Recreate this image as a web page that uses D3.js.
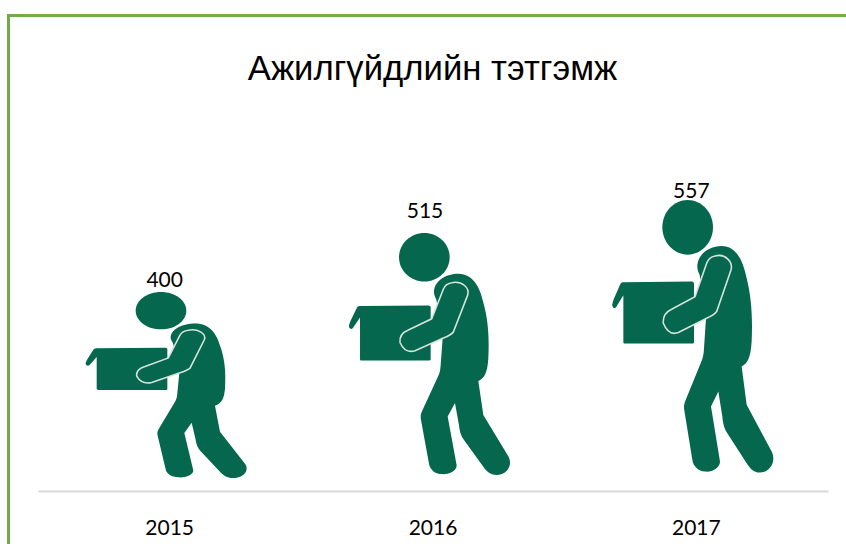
<!DOCTYPE html>
<html>
<head>
<meta charset="utf-8">
<script src="https://cdn.jsdelivr.net/npm/d3@7"></script>
<style>
  html, body { margin: 0; padding: 0; background: #fff; overflow: hidden; }
  text { font-family: "Noto Sans", sans-serif; fill: #000; }
</style>
</head>
<body>
<div id="plot"></div>
<script>
// values
const years = ["2015", "2016", "2017"];
const amounts = [400, 515, 557];
const titleText = "Ажилгүйдлийн тэтгэмж";

const width = 846, height = 544;
const baseY = 491;
const green = "#04674e";

const svg = d3.select("div#plot")
              .append("svg")
              .attr("width", width)
              .attr("height", height);

// frame, only top and left edges are in the crop
svg.append("path")
   .attr("d", `M8.5,${height} V15.5 H${width}`)
   .attr("fill", "none")
   .attr("stroke", "#70ad47")
   .attr("stroke-width", 3);

svg.append("text")
   .attr("x", 432.5)
   .attr("y", 80)
   .attr("text-anchor", "middle")
   .style("font-family", '"Liberation Sans", sans-serif')
   .style("font-size", "34.7px")
   .text(titleText);

// Each figure fills its band, the picture gets stretched with the value
const xScale = d3.scaleBand()
                 .domain(years)
                 .range([38, 828])
                 .paddingInner(0.385)
                 .paddingOuter(0.1925);

// the original stretches its pictures unevenly, so these go through all three values
const topScale = d3.scaleLinear().domain(amounts).range([292, 233, 200]);
const bottomScale = d3.scaleLinear().domain(amounts).range([478, 475, 472.5]);
const labelScale = d3.scaleLinear().domain(amounts).range([287, 218, 198]);
const labelShift = d3.scaleLinear().domain(amounts).range([-5, -8, -5]);

// Pictogram outline in its own coordinates, 486 x 818
const figW = 486, figH = 818;
const headPath = "M150,82 C150,37 184,0 226,0 C268,0 302,37 302,82 C302,127 268,164 226,164 C184,164 150,127 150,82 Z";
const boxPath = "M0,318 C-1,312 2,305 4,298 L24,252 C27,247 30,247 36,247 L238,245 C243,245 245,248 245,252 L245,428 C245,431 242,431 238,431 L38,431 C34,431 33,430 33,426 L33,286 L11,322 C7,326 2,324 0,318 Z";
const bodyPath = "M255,196 C258,160 293,138 328,138 C373,138 393,185 403,235 C418,295 421,355 418,425 C415,470 408,490 388,500 L403,615 L478,755 C493,785 473,818 443,818 C423,818 413,805 403,790 L345,700 C335,685 332,670 330,650 L318,575 L296,620 L323,785 C323,805 298,818 278,815 C258,815 243,800 240,780 L216,632 C214,620 215,612 220,600 L265,490 C272,475 274,465 275,445 L281,355 L262,225 C258,216 254,207 255,196 Z";
const armPath = "M308,168 C338,160 363,185 356,210 L313,335 C305,345 295,350 283,355 L198,398 C178,405 163,395 153,370 C151,350 163,335 178,328 L248,290 L283,190 C288,175 298,170 308,168 Z";

const figures = svg.append("g").attr("class", "figures");

years.forEach((year, i) => {
  const value = amounts[i];
  const top = topScale(value);
  const bottom = bottomScale(value);
  const sx = xScale.bandwidth() / figW;
  const sy = (bottom - top) / figH;
  const g = figures.append("g")
                   .attr("transform", `translate(${xScale(year) - 3},${top}) scale(${sx},${sy})`);
  g.append("path").attr("d", headPath).attr("fill", green);
  g.append("path").attr("d", boxPath).attr("fill", green);
  g.append("path").attr("d", bodyPath).attr("fill", green);
  g.append("path")
   .attr("d", armPath)
   .attr("fill", green)
   .attr("stroke", "#d5e3dd")
   .attr("stroke-width", 1.6)
   .attr("vector-effect", "non-scaling-stroke");

  svg.append("text")
     .attr("x", xScale(year) + xScale.bandwidth() / 2 + labelShift(value))
     .attr("y", labelScale(value))
     .attr("text-anchor", "middle")
     .style("font-family", "Lato, sans-serif")
     .style("font-size", "21px")
     .text(value);
});

// Add X axis
const xAxis = svg.append("g")
                 .attr("transform", `translate(0,${baseY})`)
                 .call(d3.axisBottom(xScale).tickSize(0).tickPadding(29));

xAxis.select(".domain")
     .attr("stroke", "#d9d9d9")
     .attr("stroke-width", 2);

xAxis.selectAll("text")
     .style("font-size", "21px")
     .style("font-family", "Lato, sans-serif")
     .attr("fill", "#000");
</script>
</body>
</html>
